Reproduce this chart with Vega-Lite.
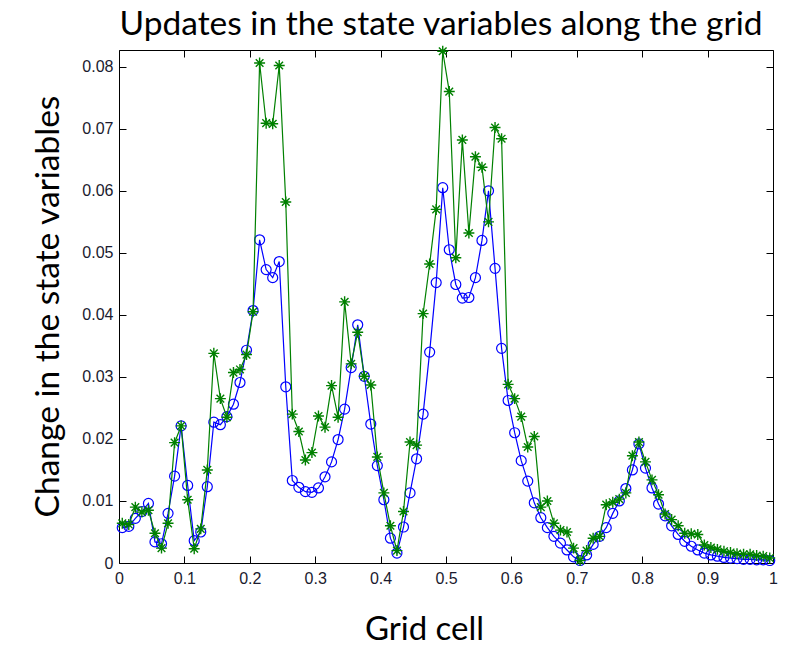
{
  "$schema": "https://vega.github.io/schema/vega-lite/v6.json",
  "autosize": {"type": "none"},
  "width": 654,
  "height": 513,
  "padding": {"left": 119, "top": 50, "right": 28, "bottom": 83},
  "background": "white",
  "title": {"text": "Updates in the state variables along the grid", "font": "Lato", "fontSize": 33.5, "fontWeight": "normal", "color": "black", "anchor": "middle", "frame": "group", "offset": 0, "dx": -5},
  "config": {
    "view": {"stroke": "black", "strokeWidth": 1},
    "axis": {"grid": false, "domain": false, "tickColor": "black", "tickWidth": 1, "tickSize": -7, "labelFont": "Liberation Sans", "labelFontSize": 16, "labelColor": "#1a1a2e", "titleFont": "Lato", "titleFontWeight": "normal", "titleColor": "black"}
  },
  "data": {"values": [
    {"x":0.005,"b":0.0057,"g":0.0064},{"x":0.015,"b":0.0059,"g":0.0062},{"x":0.025,"b":0.0072,"g":0.0090},{"x":0.035,"b":0.0083,"g":0.0082},{"x":0.045,"b":0.0096,"g":0.0085},
    {"x":0.055,"b":0.0034,"g":0.0048},{"x":0.065,"b":0.0031,"g":0.0024},{"x":0.075,"b":0.0080,"g":0.0064},{"x":0.085,"b":0.0140,"g":0.0194},{"x":0.095,"b":0.0221,"g":0.0221},
    {"x":0.105,"b":0.0125,"g":0.0102},{"x":0.115,"b":0.0036,"g":0.0023},{"x":0.125,"b":0.0050,"g":0.0055},{"x":0.135,"b":0.0123,"g":0.0150},{"x":0.145,"b":0.0227,"g":0.0338},
    {"x":0.155,"b":0.0223,"g":0.0265},{"x":0.165,"b":0.0236,"g":0.0235},{"x":0.175,"b":0.0256,"g":0.0307},{"x":0.185,"b":0.0291,"g":0.0312},{"x":0.195,"b":0.0343,"g":0.0336},
    {"x":0.205,"b":0.0407,"g":0.0405},{"x":0.215,"b":0.0521,"g":0.0806},{"x":0.225,"b":0.0473,"g":0.0709},{"x":0.235,"b":0.0460,"g":0.0708},{"x":0.245,"b":0.0486,"g":0.0802},
    {"x":0.255,"b":0.0284,"g":0.0582},{"x":0.265,"b":0.0133,"g":0.0240},{"x":0.275,"b":0.0122,"g":0.0212},{"x":0.285,"b":0.0115,"g":0.0166},{"x":0.295,"b":0.0114,"g":0.0178},
    {"x":0.305,"b":0.0121,"g":0.0237},{"x":0.315,"b":0.0139,"g":0.0219},{"x":0.325,"b":0.0163,"g":0.0286},{"x":0.335,"b":0.0199,"g":0.0235},{"x":0.345,"b":0.0248,"g":0.0421},
    {"x":0.355,"b":0.0315,"g":0.0321},{"x":0.365,"b":0.0384,"g":0.0372},{"x":0.375,"b":0.0301,"g":0.0301},{"x":0.385,"b":0.0224,"g":0.0287},{"x":0.395,"b":0.0157,"g":0.0171},
    {"x":0.405,"b":0.0102,"g":0.0113},{"x":0.415,"b":0.0040,"g":0.0060},{"x":0.425,"b":0.0016,"g":0.0020},{"x":0.435,"b":0.0058,"g":0.0083},{"x":0.445,"b":0.0113,"g":0.0195},
    {"x":0.455,"b":0.0168,"g":0.0190},{"x":0.465,"b":0.0240,"g":0.0402},{"x":0.475,"b":0.0340,"g":0.0482},{"x":0.485,"b":0.0452,"g":0.0570},{"x":0.495,"b":0.0605,"g":0.0825},
    {"x":0.505,"b":0.0505,"g":0.0760},{"x":0.515,"b":0.0449,"g":0.0492},{"x":0.525,"b":0.0427,"g":0.0682},{"x":0.535,"b":0.0428,"g":0.0532},{"x":0.545,"b":0.0460,"g":0.0655},
    {"x":0.555,"b":0.0520,"g":0.0638},{"x":0.565,"b":0.0600,"g":0.0550},{"x":0.575,"b":0.0475,"g":0.0702},{"x":0.585,"b":0.0346,"g":0.0684},{"x":0.595,"b":0.0262,"g":0.0288},
    {"x":0.605,"b":0.0210,"g":0.0265},{"x":0.615,"b":0.0165,"g":0.0236},{"x":0.625,"b":0.0132,"g":0.0187},{"x":0.635,"b":0.0097,"g":0.0204},{"x":0.645,"b":0.0073,"g":0.0090},
    {"x":0.655,"b":0.0057,"g":0.0100},{"x":0.665,"b":0.0043,"g":0.0064},{"x":0.675,"b":0.0032,"g":0.0053},{"x":0.685,"b":0.0021,"g":0.0050},{"x":0.695,"b":0.0010,"g":0.0024},
    {"x":0.705,"b":0.0004,"g":0.0004},{"x":0.715,"b":0.0013,"g":0.0020},{"x":0.725,"b":0.0030,"g":0.0040},{"x":0.735,"b":0.0043,"g":0.0043},{"x":0.745,"b":0.0057,"g":0.0094},
    {"x":0.755,"b":0.0080,"g":0.0098},{"x":0.765,"b":0.0100,"g":0.0103},{"x":0.775,"b":0.0120,"g":0.0113},{"x":0.785,"b":0.0150,"g":0.0173},{"x":0.795,"b":0.0192,"g":0.0195},
    {"x":0.805,"b":0.0153,"g":0.0163},{"x":0.815,"b":0.0121,"g":0.0134},{"x":0.825,"b":0.0095,"g":0.0110},{"x":0.835,"b":0.0076,"g":0.0079},{"x":0.845,"b":0.0060,"g":0.0070},
    {"x":0.855,"b":0.0046,"g":0.0060},{"x":0.865,"b":0.0035,"g":0.0048},{"x":0.875,"b":0.0027,"g":0.0047},{"x":0.885,"b":0.0021,"g":0.0046},{"x":0.895,"b":0.0016,"g":0.0029},
    {"x":0.905,"b":0.0013,"g":0.0025},{"x":0.915,"b":0.0011,"g":0.0022},{"x":0.925,"b":0.0009,"g":0.0019},{"x":0.935,"b":0.0008,"g":0.0017},{"x":0.945,"b":0.0007,"g":0.0015},
    {"x":0.955,"b":0.0006,"g":0.0014},{"x":0.965,"b":0.0006,"g":0.0014},{"x":0.975,"b":0.0005,"g":0.0012},{"x":0.985,"b":0.0005,"g":0.0011},{"x":0.995,"b":0.0004,"g":0.0008}
  ]},
  "layer": [
    {
      "mark": {"type": "line", "color": "#0000ff", "strokeWidth": 1.2, "clip": false,
               "point": {"shape": "circle", "filled": false, "size": 100, "stroke": "#0000ff", "strokeWidth": 1.2}},
      "encoding": {
        "x": {"field": "x", "type": "quantitative", "scale": {"domain": [0, 1], "nice": false},
              "axis": {"orient": "bottom", "values": [0,0.1,0.2,0.3,0.4,0.5,0.6,0.7,0.8,0.9,1], "format": "~g", "labelPadding": 14, "labelFlush": false,
                       "title": "Grid cell", "titleFontSize": 33, "titleX": 305, "titleY": 66, "titleBaseline": "middle", "titleAlign": "center"}},
        "y": {"field": "b", "type": "quantitative", "scale": {"domain": [0, 0.0827], "nice": false},
              "axis": {"orient": "left", "values": [0,0.01,0.02,0.03,0.04,0.05,0.06,0.07,0.08], "format": "~g", "labelPadding": 13, "labelFlush": false,
                       "title": "Change in the state variables", "titleFontSize": 33.5, "titleX": -71, "titleY": 256, "titleAngle": -90, "titleBaseline": "middle", "titleAlign": "center"}}
      }
    },
    {
      "mark": {"type": "line", "color": "#008000", "strokeWidth": 1.2, "clip": false,
               "point": {"shape": "M-1,0L1,0M0,-1L0,1M-0.7,-0.7L0.7,0.7M-0.7,0.7L0.7,-0.7", "filled": false, "size": 120, "stroke": "#008000", "strokeWidth": 1.4}},
      "encoding": {
        "x": {"field": "x", "type": "quantitative",
              "axis": {"orient": "top", "values": [0,0.1,0.2,0.3,0.4,0.5,0.6,0.7,0.8,0.9,1], "labels": false, "title": null}},
        "y": {"field": "g", "type": "quantitative",
              "axis": {"orient": "right", "values": [0,0.01,0.02,0.03,0.04,0.05,0.06,0.07,0.08], "labels": false, "title": null}}
      }
    }
  ],
  "resolve": {"axis": {"x": "independent", "y": "independent"}}
}
